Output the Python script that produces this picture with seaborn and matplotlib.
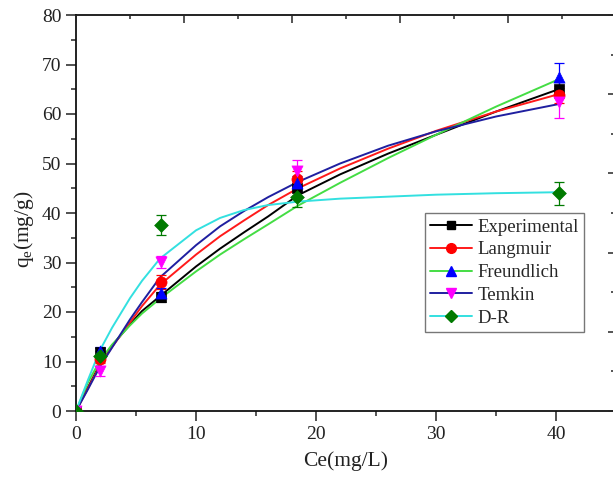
import numpy as np
import pandas as pd
import matplotlib
matplotlib.use("Agg")
import matplotlib.pyplot as plt
from matplotlib.lines import Line2D
from matplotlib.ticker import MultipleLocator
import seaborn as sns

# Measured equilibrium points (Ce in mg/L, qe in mg/g) with error bars
ce_points = [0.0, 2.0, 7.1, 18.4, 40.2]
qe_experimental = [0.0, 12.0, 23.0, 45.0, 65.0]
qe_langmuir = [0.0, 10.5, 26.1, 46.9, 63.8]
qe_freundlich = [0.0, 12.2, 23.8, 46.0, 67.4]
qe_temkin = [0.0, 8.0, 30.1, 48.5, 62.4]
qe_dr = [0.0, 11.2, 37.6, 43.2, 44.0]

err_experimental = [0.0, 0.8, 1.0, 1.5, 1.5]
err_langmuir = [0.0, 0.8, 1.4, 1.5, 1.5]
err_freundlich = [0.0, 0.8, 1.0, 1.5, 3.0]
err_temkin = [0.0, 1.0, 1.3, 2.2, 3.2]
err_dr = [0.0, 1.0, 2.0, 2.0, 2.3]

# Isotherm curves sampled along Ce
ce_curve = [0, 1, 2, 3, 4.5, 5.5, 7, 10, 12, 14, 16, 18.5, 22, 26, 30, 35, 40.2]
curve_experimental = [0, 4.8, 9.5, 13.2, 17.5, 20.2, 23.2, 29.2, 32.8, 36.1, 39.3, 43.6, 47.8, 52.0, 55.8, 60.5, 65.0]
curve_langmuir = [0, 4.6, 9.3, 12.9, 17.9, 21.2, 25.5, 31.6, 35.3, 38.5, 41.6, 45.0, 49.0, 53.0, 56.6, 60.5, 64.0]
curve_freundlich = [0, 5.8, 10.2, 13.4, 17.3, 19.7, 22.7, 28.2, 31.6, 34.7, 37.7, 41.5, 46.1, 51.1, 55.8, 61.5, 67.0]
curve_temkin = [0, 4.4, 9.0, 12.8, 18.5, 22.0, 27.0, 33.5, 37.3, 40.4, 43.2, 46.3, 50.0, 53.6, 56.5, 59.5, 62.0]
curve_dr = [0, 6.3, 12.3, 16.8, 22.8, 26.3, 30.8, 36.5, 39.0, 40.6, 41.6, 42.3, 42.9, 43.3, 43.7, 44.0, 44.2]

labels = ["Experimental", "Langmuir", "Freundlich", "Temkin", "D-R"]
line_colors = ["#000000", "#ff1a1a", "#44dd44", "#1f1fa0", "#33e0e0"]
marker_colors = ["#000000", "#ff0000", "#0000ff", "#ff00ff", "#007a00"]
markers = ["s", "o", "^", "v", "D"]
marker_sizes = [7, 8, 8, 8, 7]

point_values = [qe_experimental, qe_langmuir, qe_freundlich, qe_temkin, qe_dr]
point_errors = [err_experimental, err_langmuir, err_freundlich, err_temkin, err_dr]
curve_values = [curve_experimental, curve_langmuir, curve_freundlich, curve_temkin, curve_dr]

sns.set_style("ticks")
plt.rcParams["font.family"] = ["Liberation Serif", "DejaVu Serif"]
plt.rcParams["mathtext.fontset"] = "custom"
plt.rcParams["mathtext.rm"] = "Liberation Serif"
plt.rcParams["mathtext.it"] = "Liberation Serif"

fig = plt.figure(figsize=(6.13, 4.79), dpi=100)
ax = fig.add_axes([76 / 613, 68 / 479, 539 / 613, 396 / 479])

curves_df = pd.concat(
    [pd.DataFrame({"Ce": ce_curve, "qe": vals, "model": lab})
     for lab, vals in zip(labels, curve_values)],
    ignore_index=True,
)
sns.lineplot(data=curves_df, x="Ce", y="qe", hue="model", hue_order=labels,
             palette=dict(zip(labels, line_colors)), linewidth=1.4,
             legend=False, ax=ax, sort=False)

for lab, vals, errs, mc, mk, ms in zip(labels, point_values, point_errors,
                                       marker_colors, markers, marker_sizes):
    ax.errorbar(ce_points, vals, yerr=errs, fmt="none", ecolor=mc,
                elinewidth=0.9, capsize=3.5, capthick=0.9, zorder=3)
    pts = pd.DataFrame({"Ce": ce_points, "qe": vals})
    sns.scatterplot(data=pts, x="Ce", y="qe", marker=mk, color=mc,
                    s=ms ** 2, edgecolor=mc, linewidth=0.5, ax=ax, zorder=4)

ax.set_xlim(0, 44.9)
ax.set_ylim(0, 80)
ax.xaxis.set_major_locator(MultipleLocator(10))
ax.xaxis.set_minor_locator(MultipleLocator(5))
ax.yaxis.set_major_locator(MultipleLocator(10))
ax.yaxis.set_minor_locator(MultipleLocator(5))
ax.tick_params(axis="both", which="major", direction="out", length=7, width=1.1,
               labelsize=14, colors="#222222")
ax.tick_params(axis="both", which="minor", direction="out", length=3.5, width=1.1)
ax.tick_params(axis="both", which="both", top=False, right=False)
ax.set_xlabel("Ce(mg/L)", fontsize=15.5, color="#222222", labelpad=6)
ax.set_ylabel(r"q$_\mathregular{e}$(mg/g)", fontsize=15.5, color="#222222")
ax.yaxis.set_label_coords(-0.074, 0.46)
for side in ["left", "bottom", "top"]:
    ax.spines[side].set_linewidth(1.3)
    ax.spines[side].set_color("#111111")
ax.spines["right"].set_visible(False)

# Secondary tick scales along the top and right edges
top = ax.twiny()
top.set_xlim(0, 539 / 108)
top.xaxis.set_major_locator(MultipleLocator(1))
top.xaxis.set_minor_locator(MultipleLocator(0.5))
top.tick_params(axis="x", which="major", direction="in", length=6, width=1.1,
                labeltop=False, top=True, bottom=False)
top.tick_params(axis="x", which="minor", direction="in", length=3, width=1.1)
right = ax.twinx()
right.set_ylim(0, 5)
right.yaxis.set_major_locator(MultipleLocator(1))
right.yaxis.set_minor_locator(MultipleLocator(0.5))
right.tick_params(axis="y", which="major", direction="in", length=5, width=1.1,
                  labelright=False, right=True, left=False)
right.tick_params(axis="y", which="minor", direction="in", length=3, width=1.1)
for a in (top, right):
    for s in a.spines.values():
        s.set_visible(False)

handles = [Line2D([0], [0], color=lc, lw=1.4, marker=mk, markersize=ms - 1,
                  markerfacecolor=mc, markeredgecolor=mc)
           for lc, mc, mk, ms in zip(line_colors, marker_colors, markers, marker_sizes)]
leg = ax.legend(handles, labels, loc="upper left", bbox_to_anchor=(0.647, 0.5),
                fontsize=13.5, frameon=True, fancybox=False, framealpha=1,
                edgecolor="#777777", handlelength=2.2, handletextpad=0.3,
                labelspacing=0.3, borderpad=0.3, borderaxespad=0)
leg.get_frame().set_linewidth(1.0)

fig.savefig("out.png", dpi=100)
